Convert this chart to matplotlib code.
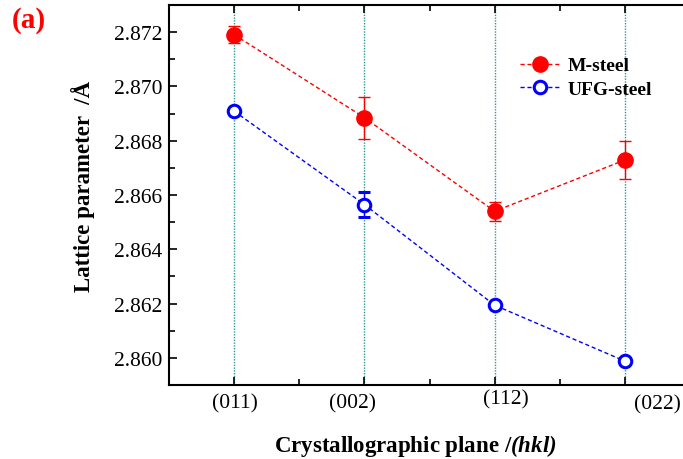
import matplotlib
matplotlib.use("Agg")
import matplotlib.pyplot as plt
from matplotlib.transforms import ScaledTranslation

plt.rcParams['font.family'] = ['Liberation Serif', 'DejaVu Serif']
plt.rcParams['mathtext.fontset'] = 'custom'
plt.rcParams['mathtext.bfit'] = 'Liberation Serif:italic:bold'
plt.rcParams['mathtext.rm'] = 'Liberation Serif'

# data
planes = ['(011)', '(002)', '(112)', '(022)']
positions = [1, 2, 3, 4]
m_steel = [2.87191, 2.86885, 2.86540, 2.86729]
m_err = [0.00031, 0.00077, 0.00034, 0.00069]
ufg_steel = [2.86909, 2.86565, 2.86194, 2.85988]
ufg_err = [0.00005, 0.00046, 0.00005, 0.00005]

fig = plt.figure(figsize=(6.83, 4.6), dpi=100)
ax = fig.add_axes([169 / 683, 1 - 386 / 460, 521 / 683, 380 / 460])

for x in positions:
    ax.axvline(x, color='#2a9a9a', linestyle=(0, (1, 1)), linewidth=1.0, zorder=1)

dash = (0, (3, 2))
ax.errorbar(positions, m_steel, yerr=m_err, color='red', linestyle=dash,
            linewidth=1.0, marker='o', markersize=11, markerfacecolor='red',
            markeredgecolor='red', capsize=4, elinewidth=1.0, capthick=1.0,
            zorder=3)
ax.errorbar(positions, ufg_steel, yerr=ufg_err, color='blue', linestyle=dash,
            linewidth=1.0, marker='o', markersize=9, markerfacecolor='white',
            markeredgecolor='blue', markeredgewidth=2.2, capsize=4, elinewidth=1.0,
            capthick=1.0, zorder=3)

# legend handles without error bars
h1, = ax.plot([], [], color='red', linestyle=dash, linewidth=1.0, marker='o',
              markersize=11, markerfacecolor='red', markeredgecolor='red')
h2, = ax.plot([], [], color='blue', linestyle=dash, linewidth=1.0, marker='o',
              markersize=9, markerfacecolor='white', markeredgecolor='blue',
              markeredgewidth=2.2)

ax.set_xlim(0.5, 4.5)
ax.set_ylim(2.859, 2.873)
ax.set_xticks(positions)
ax.set_xticklabels(planes)
ax.set_xticks([1.5, 2.5, 3.5], minor=True)
ax.set_yticks([2.860, 2.862, 2.864, 2.866, 2.868, 2.870, 2.872])
ax.set_yticklabels(['2.860', '2.862', '2.864', '2.866', '2.868', '2.870', '2.872'])
ax.set_yticks([2.861, 2.863, 2.865, 2.867, 2.869, 2.871], minor=True)

ax.tick_params(axis='both', which='both', direction='in', top=True, right=False,
               labelsize=15.5, width=1.2)
ax.tick_params(axis='both', which='major', length=6)
ax.tick_params(axis='both', which='minor', length=4)
ax.tick_params(axis='x', which='major', pad=6)
ax.tick_params(axis='y', which='major', pad=5)

# shift the x tick labels like in the original figure
shifts = [(1, 0), (-12, 0), (11, 4), (33, -1)]
for lab, (dx, dy) in zip(ax.get_xticklabels(), shifts):
    lab.set_transform(lab.get_transform() +
                      ScaledTranslation(dx / 100, dy / 100, fig.dpi_scale_trans))

for side in ['left', 'bottom', 'top']:
    ax.spines[side].set_linewidth(1.5)
ax.spines['right'].set_visible(False)

ax.set_ylabel('Lattice parameter  /Å', fontsize=16.5, fontweight='bold')
ax.yaxis.set_label_coords(-(169 - 95) / 521, 0.525)
ax.set_xlabel(r'Crystallographic plane /$\mathbfit{(hkl)}$', fontsize=16.5,
              fontweight='bold')
ax.xaxis.set_label_coords((415 - 169) / 521, -(433 - 386) / 380)

ax.legend([h1, h2], ['M-steel', 'UFG-steel'], loc='upper left',
          bbox_to_anchor=((512 - 169) / 521, 1 - (50 - 6) / 380),
          frameon=False, prop={'weight': 'bold', 'size': 14},
          handlelength=2.05, handletextpad=0.4, labelspacing=0.3,
          borderaxespad=0)

fig.text(12 / 683, 1 - 20 / 460, '(a)', color='red', fontsize=21, fontweight='bold',
         va='center', ha='left')

fig.savefig('out.png', dpi=100)
